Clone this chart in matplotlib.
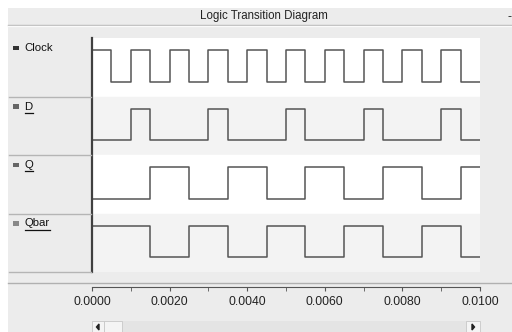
import matplotlib
matplotlib.use("Agg")
import matplotlib.pyplot as plt
from matplotlib.patches import Rectangle, Polygon
from matplotlib.lines import Line2D

plt.rcParams['font.family'] = ['Liberation Sans', 'DejaVu Sans']

# signal data: level held from each time until the next
t = [0.0000, 0.0005, 0.0010, 0.0015, 0.0020, 0.0025, 0.0030, 0.0035, 0.0040, 0.0045,
     0.0050, 0.0055, 0.0060, 0.0065, 0.0070, 0.0075, 0.0080, 0.0085, 0.0090, 0.0095, 0.0100]
clock = [1, 0, 1, 0, 1, 0, 1, 0, 1, 0, 1, 0, 1, 0, 1, 0, 1, 0, 1, 0, 0]
d     = [0, 0, 1, 0, 0, 0, 1, 0, 0, 0, 1, 0, 0, 0, 1, 0, 0, 0, 1, 0, 0]
q     = [0, 0, 0, 1, 1, 0, 0, 1, 1, 0, 0, 1, 1, 0, 0, 1, 1, 0, 0, 1, 1]
qbar  = [1, 1, 1, 0, 0, 1, 1, 0, 0, 1, 1, 0, 0, 1, 1, 0, 0, 1, 1, 0, 0]
names = ["Clock", "D", "Q", "Qbar"]
signals = [clock, d, q, qbar]
xticks = [0.0000, 0.0020, 0.0040, 0.0060, 0.0080, 0.0100]
minor_ticks = [0.0010, 0.0030, 0.0050, 0.0070, 0.0090]

W, H = 512, 332
fig = plt.figure(figsize=(W / 100, H / 100), dpi=100)
fig.patch.set_facecolor("white")


def fx(px):
    return px / W


def fy(py):
    return 1 - py / H


def rect(x0, y0, x1, y1, **kw):
    fig.patches.append(Rectangle((fx(x0), fy(y1)), fx(x1) - fx(x0), fy(y0) - fy(y1),
                                 transform=fig.transFigure, **kw))


def hline(x0, x1, y, **kw):
    fig.lines.append(Line2D([fx(x0), fx(x1)], [fy(y), fy(y)], transform=fig.transFigure, **kw))


# window background
rect(8, 8, W, H, facecolor="#ececec", edgecolor="none", zorder=-5)
hline(8, W, 25, color="#b8b8b8", lw=1)
hline(8, W, 26, color="#fafafa", lw=1)
fig.text(fx(264), fy(16.5), "Logic Transition Diagram", ha="center", va="center",
         fontsize=8.3, color="#222")
fig.text(fx(509), fy(17), "-", ha="center", va="center", fontsize=9, color="#222")

# signal area
top, bot, left, right = 38, 272, 92, 480
ax = fig.add_axes([fx(left), fy(bot), fx(right) - fx(left), fy(top) - fy(bot)])
ax.set_xlim(0, 0.01)
ax.set_ylim(0, 4)
for s in ["top", "right", "bottom"]:
    ax.spines[s].set_visible(False)
ax.spines["left"].set_color("#404040")
ax.spines["left"].set_linewidth(1.6)
ax.set_xticks([])
ax.set_yticks([])
lo, hi = 0.25, 0.79
for i, (name, sig) in enumerate(zip(names, signals)):
    base = 3 - i
    ax.axhspan(base, base + 1, color="white" if i % 2 == 0 else "#f3f3f3", zorder=0)
    ax.step(t, [base + lo + (hi - lo) * v for v in sig], where="post",
            color="#555555", lw=1.1, zorder=2)

# label panel
row_h = (bot - top) / 4
marker_cols = ["#333333", "#666666", "#666666", "#888888"]
for i, name in enumerate(names):
    y0 = top + i * row_h
    hline(9, 91, y0 + row_h, color="#b5b5b5", lw=1)
    rect(12.7, y0 + 7.7, 19.3, y0 + 12, facecolor=marker_cols[i], edgecolor="none", zorder=3)
    txt = fig.text(fx(24.5), fy(y0 + 10), name, ha="left", va="center", fontsize=8.2, color="#111")
    if i > 0:
        fig.canvas.draw()
        bb = txt.get_window_extent()
        fig.lines.append(Line2D([fx(bb.x0), fx(bb.x1)], [fy(y0 + 16), fy(y0 + 16)],
                                transform=fig.transFigure, color="#111", lw=0.9))

# time axis
hline(8, W, 283, color="#b0b0b0", lw=1)
tax = fig.add_axes([fx(left), fy(287), fx(right) - fx(left), 0.001])
tax.set_facecolor("none")
tax.set_xlim(0, 0.01)
for s in ["left", "right", "bottom"]:
    tax.spines[s].set_visible(False)
tax.spines["top"].set_color("#555")
tax.set_yticks([])
tax.set_xticks(xticks)
tax.set_xticklabels(["%.4f" % v for v in xticks])
tax.set_xticks(minor_ticks, minor=True)
tax.tick_params(axis="x", which="both", direction="out", length=3, color="#555",
                labelsize=8.7, pad=3.5, labelcolor="#222")

# scrollbar
rect(92, 321, 480, 332, facecolor="#e4e4e4", edgecolor="none", zorder=1)
rect(92, 321, 104, 332, facecolor="#f4f4f4", edgecolor="#c8c8c8", lw=0.6, zorder=2)
rect(104, 321, 122, 332, facecolor="#f4f4f4", edgecolor="#c8c8c8", lw=0.6, zorder=2)
rect(466, 321, 480, 332, facecolor="#f4f4f4", edgecolor="#c8c8c8", lw=0.6, zorder=2)
fig.patches.append(Polygon([(fx(99), fy(324)), (fx(99), fy(330)), (fx(96.5), fy(327))],
                           closed=True, transform=fig.transFigure, color="#222", zorder=3))
fig.patches.append(Polygon([(fx(472), fy(324)), (fx(472), fy(330)), (fx(474.5), fy(327))],
                           closed=True, transform=fig.transFigure, color="#222", zorder=3))

fig.savefig("out.png", dpi=100)
